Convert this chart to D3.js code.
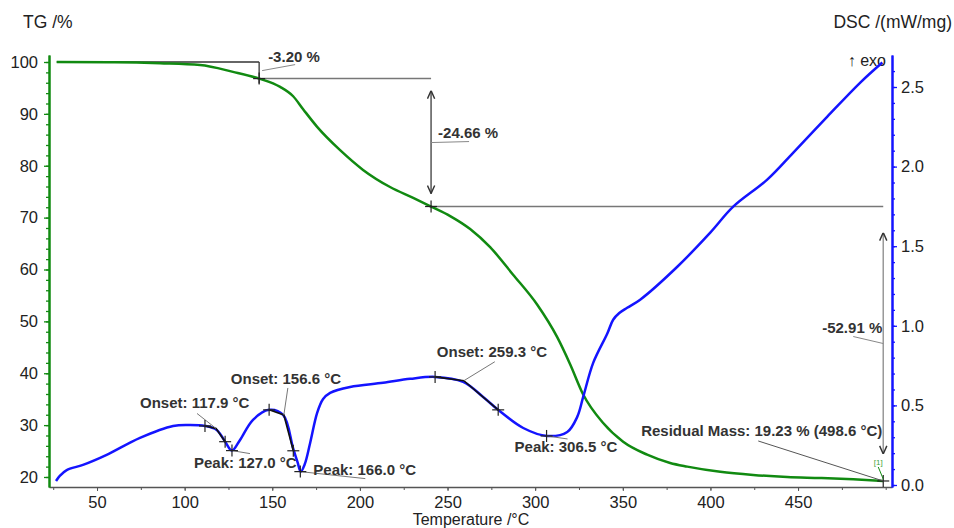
<!DOCTYPE html>
<html>
<head>
    <meta charset="utf-8" />
    <title>TG / DSC</title>
    <script src="https://d3js.org/d3.v7.min.js"></script>
    <style>
        body { margin: 0; background: #fff; }
        text { font-family: "Liberation Sans", Arial, Helvetica, sans-serif; }
        .tick text { font-size: 16.5px; fill: #222; }
        .title { font-size: 17.5px; fill: #222; }
        .note { font-size: 15px; font-weight: bold; fill: #333; }
    </style>
</head>
<body>
<svg id="chart" width="954" height="528"></svg>
<script>

// TG curve: mass % against temperature (°C)
let tgTemp = [27, 60, 86, 108.8, 127.6, 142.5, 154.5, 161.9, 167.6, 175.6, 188.7, 201.8, 217.2, 230.4, 240.6,
    251.5, 262.9, 274.3, 287.4, 301.2, 312.5, 320, 327.4, 338.8, 350.2, 363.9, 377, 386.8, 405.6, 424.4,
    443.8, 462.7, 481.5, 498.6];
let tgMass = [100, 99.95, 99.75, 99.4, 98.1, 96.8, 95.2, 93.4, 90.9, 87.5, 83.0, 79.2, 75.9, 73.8, 72.14,
    70.3, 67.8, 64.3, 59.0, 53.2, 47.0, 41.7, 35.9, 30.4, 26.8, 24.3, 22.7, 22.0, 21.0, 20.4,
    20.0, 19.8, 19.55, 19.23];

// DSC curve: mW/mg against temperature (°C)
let dscTemp = [26.6, 29, 32.7, 42, 55.5, 74.5, 93.4, 103.1, 111.6, 118.3, 123.1, 127.0, 131.6, 139.0, 148.2,
    156.2, 161.9, 164.5, 166.2, 168.5, 171.6, 175.6, 179, 183, 194.4, 213.2, 228.7, 242.9, 258.9, 270.3,
    278.9, 293.2, 306.8, 318.3, 324, 327.4, 333.1, 341.1, 344.5, 348, 352.5, 359.9, 381.1, 399.9,
    413, 432.4, 447.3, 466.7, 485.5, 498.1];
let dscVal = [0.025, 0.06, 0.094, 0.126, 0.189, 0.296, 0.371, 0.377, 0.371, 0.346, 0.272, 0.216, 0.283, 0.409, 0.472,
    0.44, 0.23, 0.14, 0.084, 0.13, 0.264, 0.453, 0.54, 0.579, 0.616, 0.642, 0.667, 0.679, 0.648, 0.553,
    0.472, 0.358, 0.308, 0.333, 0.428, 0.553, 0.767, 0.95, 1.038, 1.08, 1.113, 1.164, 1.371, 1.585,
    1.748, 1.918, 2.088, 2.314, 2.528, 2.654];

// ticks
let xTicks = [50, 100, 150, 200, 250, 300, 350, 400, 450];
let xMinor = d3.range(25, 501, 25);
let tgTicks = [20, 30, 40, 50, 60, 70, 80, 90, 100];
let tgMinor = d3.range(20, 101, 2);
let dscTicks = [0.0, 0.5, 1.0, 1.5, 2.0, 2.5];
let dscMinor = d3.range(0, 2.61, 0.1);

// TG mass steps (temperature, mass after step, label)
let stepTemps = [142.5, 240.6, 498.6];
let stepMass = [96.80, 72.14, 19.23];
let stepLabels = ["-3.20 %", "-24.66 %", "-52.91 %"];
let residualLabel = "Residual Mass: 19.23 % (498.6 °C)";

// DSC onsets: tangent start, onset point, tangent end
let onsetTemps = [117.9, 156.6, 259.3];
let onsetDsc = [0.355, 0.44, 0.655];
let onsetFromT = [111.6, 148.2, 242.9];
let onsetFromDsc = [0.371, 0.472, 0.679];
let onsetToT = [123.1, 162.0, 278.9];
let onsetToDsc = [0.272, 0.215, 0.472];
// DSC peaks
let peakTemps = [127.0, 166.0, 306.5];
let peakDsc = [0.216, 0.084, 0.308];

let green = "#118a11", blue = "#1414ff";

let svg = d3.select("#chart");

let x = d3.scaleLinear().domain([22.6, 503.6]).range([49, 892]);
let yTG = d3.scaleLinear().domain([18.07, 101.35]).range([487, 55]);
let yDSC = d3.scaleLinear().domain([-0.0126, 2.701]).range([487, 55]);

let defs = svg.append("defs");
defs.append("marker")
    .attr("id", "arr")
    .attr("viewBox", "0 0 10 10")
    .attr("refX", 10).attr("refY", 5)
    .attr("markerWidth", 9).attr("markerHeight", 9)
    .attr("markerUnits", "userSpaceOnUse")
    .attr("orient", "auto-start-reverse")
    .append("path")
    .attr("d", "M1,1 L10,5 L1,9")
    .attr("fill", "none")
    .attr("stroke", "#333")
    .attr("stroke-width", 1.6);

// axes
let xAxis = svg.append("g").attr("transform", "translate(0,487)")
    .call(d3.axisBottom(x).tickValues(xTicks).tickSize(4).tickSizeOuter(0).tickPadding(5));
svg.append("g").attr("transform", "translate(0,487)")
    .call(d3.axisBottom(x).tickValues(xMinor).tickSize(3).tickSizeOuter(0).tickFormat(""))
    .select(".domain").remove();
xAxis.select(".domain").attr("stroke", "#555").attr("stroke-width", 1.5);
svg.selectAll("g line").attr("stroke", "#555");

let tgAxis = svg.append("g").attr("transform", "translate(49,0)")
    .call(d3.axisLeft(yTG).tickValues(tgTicks).tickSize(5).tickSizeOuter(0).tickPadding(6));
let tgAxisMinor = svg.append("g").attr("transform", "translate(49,0)")
    .call(d3.axisLeft(yTG).tickValues(tgMinor).tickSize(3).tickSizeOuter(0).tickFormat(""));
[tgAxis, tgAxisMinor].forEach(function (g) {
    g.select(".domain").attr("stroke", green).attr("stroke-width", 2);
    g.selectAll(".tick line").attr("stroke", green).attr("stroke-width", 1.3);
});

let dscAxis = svg.append("g").attr("transform", "translate(892,0)")
    .call(d3.axisRight(yDSC).tickValues(dscTicks).tickSize(5).tickSizeOuter(0).tickPadding(4)
        .tickFormat(d3.format(".1f")));
let dscAxisMinor = svg.append("g").attr("transform", "translate(892,0)")
    .call(d3.axisRight(yDSC).tickValues(dscMinor).tickSize(3).tickSizeOuter(0).tickFormat(""));
[dscAxis, dscAxisMinor].forEach(function (g) {
    g.select(".domain").attr("stroke", blue).attr("stroke-width", 2);
    g.selectAll(".tick line").attr("stroke", blue).attr("stroke-width", 1.3);
});
svg.selectAll(".tick text").attr("font-family", null).attr("font-size", null);

// titles
svg.append("text").attr("class", "title").attr("x", 23).attr("y", 28).text("TG /%");
svg.append("text").attr("class", "title").attr("x", 952).attr("y", 28)
    .attr("text-anchor", "end").text("DSC /(mW/mg)");
svg.append("text").attr("class", "title").attr("x", 471).attr("y", 525)
    .style("font-size", "16px")
    .attr("text-anchor", "middle").text("Temperature /°C");
svg.append("text").attr("x", 886).attr("y", 66).attr("text-anchor", "end")
    .style("font-size", "16px").style("fill", "#222").text("↑ exo");

// helpers
function seg(x1, y1, x2, y2, color, w) {
    return svg.append("line")
        .attr("x1", x1).attr("y1", y1).attr("x2", x2).attr("y2", y2)
        .attr("stroke", color).attr("stroke-width", w);
}
function cross(px, py) {
    seg(px - 6, py, px + 6, py, "#222", 1.2);
    seg(px, py - 6, px, py + 6, "#222", 1.2);
}
function note(px, py, str, anchor) {
    svg.append("text").attr("class", "note")
        .attr("x", px).attr("y", py)
        .attr("text-anchor", anchor || "start")
        .text(str);
}

// TG step construction lines (under the curve)
let sx = stepTemps.map(x), sy = stepMass.map(yTG);
seg(x(tgTemp[0]), yTG(100), sx[0], yTG(100), "#333", 1.3);
seg(sx[0], yTG(100), sx[0], sy[0] + 5, "#333", 1.3);
seg(sx[0], sy[0], sx[1], sy[0], "#777", 1.5);
seg(sx[1], sy[1], sx[2], sy[1], "#777", 1.5);

// curves
let tgData = tgTemp.map(function (t, i) { return [t, tgMass[i]]; });
let dscData = dscTemp.map(function (t, i) { return [t, dscVal[i]]; });

svg.append("path").datum(tgData)
    .attr("fill", "none").attr("stroke", green).attr("stroke-width", 2.5)
    .attr("d", d3.line().x(d => x(d[0])).y(d => yTG(d[1])).curve(d3.curveMonotoneX));

svg.append("path").datum(dscData)
    .attr("fill", "none").attr("stroke", blue).attr("stroke-width", 2.5)
    .attr("d", d3.line().x(d => x(d[0])).y(d => yDSC(d[1])).curve(d3.curveCatmullRom.alpha(0.5)));

// TG step arrows
seg(sx[1], sy[0] + 12, sx[1], sy[1] - 13, "#555", 1.5)
    .attr("marker-start", "url(#arr)").attr("marker-end", "url(#arr)");
seg(sx[2], sy[1] + 26, sx[2], sy[2] - 27, "#999", 1.5)
    .attr("marker-start", "url(#arr)").attr("marker-end", "url(#arr)");

sx.forEach(function (px, i) { cross(px, sy[i]); });

// step labels and leaders
note(sx[0] + 9, yTG(100), stepLabels[0]);
seg(sx[0] + 3, sy[0] - 8, sx[0] + 36, sy[0] - 14, "#888", 1);
note(sx[1] + 7, (sy[0] + sy[1]) / 2 - 5, stepLabels[1]);
seg(sx[1], (sy[0] + sy[1]) / 2, sx[1] + 38, (sy[0] + sy[1]) / 2 - 1, "#888", 1);
note(sx[2] - 1, sy[1] + 126, stepLabels[2], "end");
seg(sx[2] - 30, sy[1] + 130, sx[2], sy[1] + 137, "#888", 1);
note(sx[2] - 1, sy[2] - 45, residualLabel, "end");
seg(sx[2] - 125, sy[2] - 40, sx[2], sy[2], "#555", 1);
seg(sx[2] - 5, sy[2] - 14, sx[2], sy[2] - 2, green, 1);
svg.append("text").attr("x", sx[2] - 5).attr("y", sy[2] - 16)
    .attr("text-anchor", "middle")
    .style("font-size", "8px").style("fill", "#3aa63a").text("[1]");

// DSC onset tangents, crosses and labels
let onsetDx = [-76, -53, -27];
let onsetDy = [-20, -31, -24];
let onsetLead = [[-19, -15], [4, -27], [31, -19]];
onsetTemps.forEach(function (t, i) {
    let ox = x(t), oy = yDSC(onsetDsc[i]);
    let fx = x(onsetFromT[i]), fy = yDSC(onsetFromDsc[i]);
    let tx = x(onsetToT[i]), ty = yDSC(onsetToDsc[i]);
    svg.append("path")
        .attr("d", "M" + fx + "," + fy + "L" + ox + "," + oy + "L" + tx + "," + ty)
        .attr("fill", "none").attr("stroke", "#111").attr("stroke-width", 1.6);
    seg(ox + onsetLead[i][0], oy + onsetLead[i][1], ox, oy, "#777", 1);
    cross(fx, fy);
    cross(tx, ty);
    note(ox + onsetDx[i], oy + onsetDy[i], "Onset: " + t.toFixed(1) + " °C");
});

let peakDx = [-38, 13, -32];
let peakDy = [17, 3, 16];
let peakLead = [18, 65, 21];
peakTemps.forEach(function (t, i) {
    let px = x(t), py = yDSC(peakDsc[i]);
    seg(px, py, px + peakLead[i], py + (i === 1 ? 7 : 3), "#777", 1);
    cross(px, py);
    note(px + peakDx[i], py + peakDy[i], "Peak: " + t.toFixed(1) + " °C");
});

</script>
</body>
</html>
